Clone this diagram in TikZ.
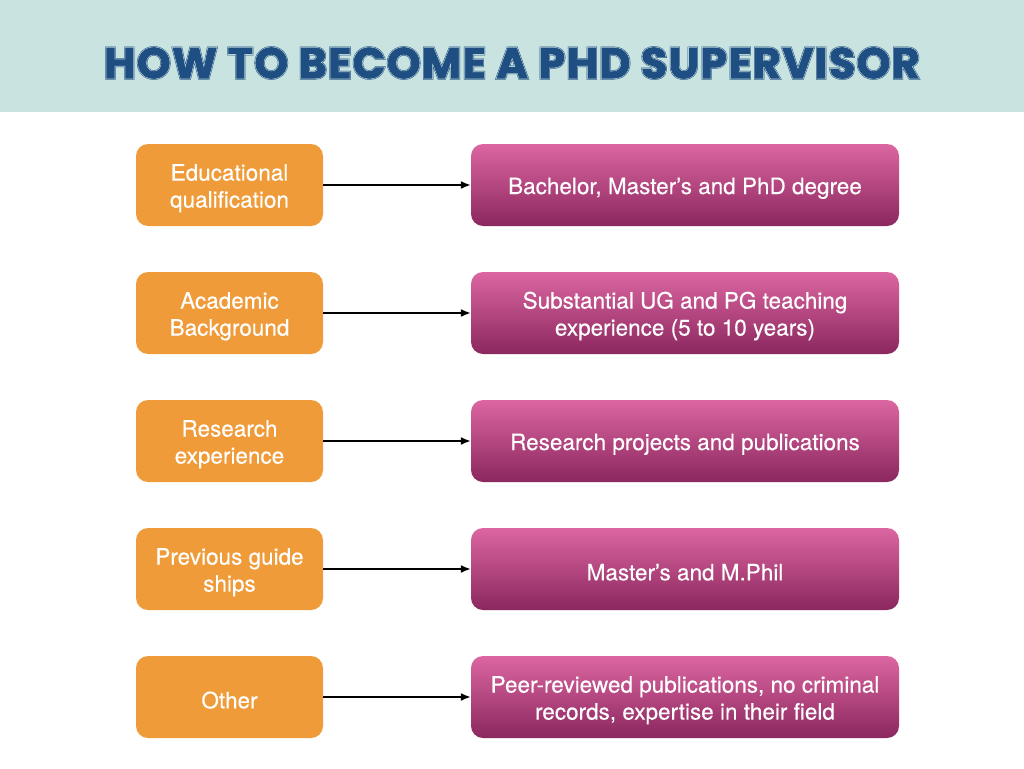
\documentclass[tikz,border=0pt]{standalone}
\usepackage{fontspec}
\setmainfont{TeX Gyre Heros}
\newfontfamily\bodyfont{TeX Gyre Heros}[FakeBold=0.3]
\newfontfamily\titlerim{Poppins Bold}[FakeBold=6.5, LetterSpace=3]
\newfontfamily\titleline{Poppins Bold}[FakeBold=4.2, LetterSpace=3]
\newfontfamily\titlecore{Poppins Bold}[FakeBold=1.8, LetterSpace=3]
\usetikzlibrary{arrows.meta}
\definecolor{banner}{HTML}{C8E3E0}
\definecolor{titleblue}{HTML}{1F4E82}
\definecolor{boxorange}{HTML}{F09B39}
\definecolor{pinktop}{HTML}{DC66A1}
\definecolor{pinkbot}{HTML}{8B275F}
\newcommand{\titletext}{HOW TO BECOME A PHD SUPERVISOR}
\newcommand{\lift}{\rule{0pt}{23pt}}
\begin{document}
\begin{tikzpicture}[x=1pt,y=1pt]
\tikzstyle{every node}+=[inner sep=0pt, text=white, align=center, font=\bodyfont\fontsize{22.5}{27}\selectfont]
\tikzstyle{stage}=[rounded corners=12pt, fill=boxorange, minimum width=187pt, minimum height=82pt]
\tikzstyle{detail}=[rounded corners=12pt, top color=pinktop, bottom color=pinkbot, minimum width=428pt, minimum height=82pt]
\tikzstyle{link}=[black, line width=1.6pt, -{Latex[length=10pt,width=8pt]}]
\tikzstyle{heading}=[font=\fontsize{43}{43}\selectfont]
\useasboundingbox (0,0) rectangle (1024,-768);
\fill [white] (0,0) rectangle (1024,-768);
\fill [banner] (0,0) rectangle (1024,-112);
% title, drawn as three layers for the inline look
\node (titlerim) [heading, text=titleblue] at (512,-63) {\titlerim\titletext};
\node (titleline) [heading, text=banner] at (512,-63) {\titleline\titletext};
\node (title) [heading, text=titleblue] at (512,-63) {\titlecore\titletext};
\node (edu) [stage] at (229.5,-185) {\lift Educational\\qualification};
\node (edur) [detail] at (685,-185) {\lift Bachelor, Master’s and PhD degree};
\node (aca) [stage] at (229.5,-313) {\lift Academic\\Background};
\node (acar) [detail] at (685,-313) {\lift Substantial UG and PG teaching\\experience (5 to 10 years)};
\node (res) [stage] at (229.5,-441) {\lift Research\\experience};
\node (resr) [detail] at (685,-441) {\lift Research projects and publications};
\node (prev) [stage] at (229.5,-569) {\lift Previous guide\\ships};
\node (prevr) [detail] at (685,-569) {\lift Master’s and M.Phil};
\node (oth) [stage] at (229.5,-697) {\lift Other};
\node (othr) [detail] at (685,-697) {\lift Peer-reviewed publications, no criminal\\records, expertise in their field};
\draw [link] (edu) -- (edur);
\draw [link] (aca) -- (acar);
\draw [link] (res) -- (resr);
\draw [link] (prev) -- (prevr);
\draw [link] (oth) -- (othr);
\end{tikzpicture}
\end{document}
